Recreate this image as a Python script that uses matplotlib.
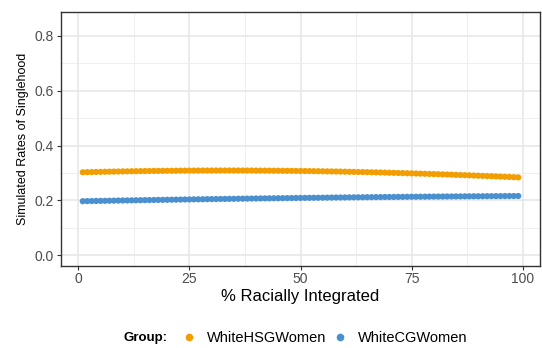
import matplotlib
matplotlib.use("Agg")
import matplotlib.pyplot as plt
from matplotlib.lines import Line2D
from matplotlib.offsetbox import HPacker

# Data: simulated rates of singlehood by % racially integrated
pct_integrated = list(range(1, 100))

white_hsg_women = [
    0.3025, 0.3029, 0.3033, 0.3037, 0.3040, 0.3044, 0.3047, 0.3050, 0.3053, 0.3056,
    0.3059, 0.3062, 0.3065, 0.3067, 0.3069, 0.3072, 0.3074, 0.3076, 0.3078, 0.3079,
    0.3081, 0.3082, 0.3084, 0.3085, 0.3086, 0.3087, 0.3088, 0.3088, 0.3089, 0.3089,
    0.3090, 0.3090, 0.3090, 0.3090, 0.3090, 0.3089, 0.3089, 0.3088, 0.3088, 0.3087,
    0.3086, 0.3085, 0.3084, 0.3083, 0.3081, 0.3080, 0.3078, 0.3077, 0.3075, 0.3073,
    0.3071, 0.3068, 0.3066, 0.3064, 0.3061, 0.3058, 0.3056, 0.3053, 0.3050, 0.3046,
    0.3043, 0.3040, 0.3036, 0.3033, 0.3029, 0.3025, 0.3021, 0.3017, 0.3013, 0.3008,
    0.3004, 0.2999, 0.2995, 0.2990, 0.2985, 0.2980, 0.2975, 0.2970, 0.2965, 0.2959,
    0.2954, 0.2949, 0.2943, 0.2937, 0.2931, 0.2925, 0.2919, 0.2913, 0.2907, 0.2900,
    0.2894, 0.2887, 0.2881, 0.2874, 0.2867, 0.2860, 0.2853, 0.2846, 0.2839,
]

white_cg_women = [
    0.1970, 0.1973, 0.1976, 0.1979, 0.1981, 0.1984, 0.1987, 0.1990, 0.1993, 0.1995,
    0.1998, 0.2001, 0.2003, 0.2006, 0.2009, 0.2011, 0.2014, 0.2017, 0.2019, 0.2022,
    0.2024, 0.2027, 0.2029, 0.2032, 0.2034, 0.2037, 0.2039, 0.2041, 0.2044, 0.2046,
    0.2048, 0.2051, 0.2053, 0.2055, 0.2057, 0.2060, 0.2062, 0.2064, 0.2066, 0.2068,
    0.2071, 0.2073, 0.2075, 0.2077, 0.2079, 0.2081, 0.2083, 0.2085, 0.2087, 0.2089,
    0.2091, 0.2093, 0.2094, 0.2096, 0.2098, 0.2100, 0.2102, 0.2104, 0.2105, 0.2107,
    0.2109, 0.2111, 0.2112, 0.2114, 0.2116, 0.2117, 0.2119, 0.2120, 0.2122, 0.2124,
    0.2125, 0.2127, 0.2128, 0.2130, 0.2131, 0.2132, 0.2134, 0.2135, 0.2137, 0.2138,
    0.2139, 0.2141, 0.2142, 0.2143, 0.2144, 0.2146, 0.2147, 0.2148, 0.2149, 0.2150,
    0.2152, 0.2153, 0.2154, 0.2155, 0.2156, 0.2157, 0.2158, 0.2159, 0.2160,
]

group_names = ["WhiteHSGWomen", "WhiteCGWomen"]
group_colors = ["#F29E00", "#4A90CF"]

x_ticks = [0, 25, 50, 75, 100]
y_ticks = [0.0, 0.2, 0.4, 0.6, 0.8]

plt.rcParams["font.family"] = ["Liberation Sans", "DejaVu Sans"]

fig = plt.figure(figsize=(5.42, 3.48), dpi=100)
ax = fig.add_axes([61 / 542, 1 - 265.5 / 348, 479 / 542, 254 / 348])

# ggplot-ish theme_bw grid
ax.set_xlim(-3.9, 103.9)
ax.set_ylim(-0.0376, 0.889)
ax.set_xticks(x_ticks)
ax.set_yticks(y_ticks)
ax.set_xticks([12.5, 37.5, 62.5, 87.5], minor=True)
ax.set_yticks([0.1, 0.3, 0.5, 0.7], minor=True)
ax.grid(which="major", color="#E6E6E6", linewidth=1.1)
ax.grid(which="minor", color="#EDEDED", linewidth=0.6)
ax.set_axisbelow(True)
ax.tick_params(which="minor", length=0)
ax.tick_params(which="major", length=3, color="#333333", width=0.8,
               labelsize=10, labelcolor="#4D4D4D", pad=2)
ax.set_xticklabels([str(t) for t in x_ticks])
ax.set_yticklabels([f"{t:.1f}" for t in y_ticks])
for sp in ax.spines.values():
    sp.set_color("#333333")
    sp.set_linewidth(1.0)

# one colour per point so the points aren't snapped to whole pixels
for vals, col in zip([white_hsg_women, white_cg_women], group_colors):
    sc = ax.scatter(pct_integrated, vals, s=20, c=[col] * len(vals),
                    linewidths=0, zorder=3)
    sc.set_snap(False)

ax.set_xlabel("% Racially Integrated", fontsize=12, labelpad=2)
ax.set_ylabel("Simulated Rates of Singlehood", fontsize=9, labelpad=4)

handles = [Line2D([], [], marker="o", linestyle="", color=c, markersize=4.5)
           for c in group_colors]
leg = fig.legend(handles, group_names, loc="center", bbox_to_anchor=(0.545, 1 - 338 / 348),
                 ncol=2, frameon=False, fontsize=10.5, handletextpad=0.55,
                 handlelength=1.4, columnspacing=0.2, title="Group:",
                 title_fontproperties={"weight": "bold", "size": 9.5})
# put title to the left of the entries, like ggplot's bottom legend
box = leg._legend_box
box.__class__ = HPacker
box.sep = 8

fig.savefig("out.png", dpi=100)
